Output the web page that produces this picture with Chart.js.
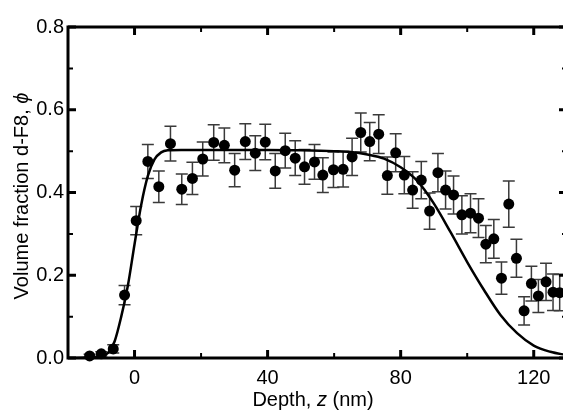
<!DOCTYPE html>
<html><head><meta charset="utf-8">
<script src="https://cdn.jsdelivr.net/npm/chart.js@4/dist/chart.umd.min.js"></script>
<style>html,body{margin:0;padding:0;overflow:hidden;background:#fff;width:563px;height:410px}</style>
</head><body>
<div style="width:575px;height:410px;position:relative"><canvas id="c" width="575" height="410"></canvas></div>
<script>
// measured points
const depth = [-13.5,-10.0,-6.4,-3.0,0.5,4.0,7.3,10.8,14.2,17.4,20.5,23.8,27.0,30.1,33.3,36.3,39.3,42.3,45.3,48.3,51.1,54.1,56.6,59.8,62.7,65.4,68.0,70.7,73.4,76.0,78.5,81.1,83.6,86.2,88.7,91.2,93.5,95.9,98.4,101.0,103.4,105.6,108.0,110.3,112.5,114.8,117.1,119.3,121.4,123.7,125.8,127.8];
const phi = [0.005,0.010,0.022,0.152,0.332,0.475,0.414,0.518,0.408,0.434,0.481,0.521,0.514,0.454,0.523,0.495,0.522,0.452,0.501,0.483,0.462,0.474,0.442,0.455,0.456,0.486,0.545,0.523,0.541,0.441,0.496,0.442,0.406,0.430,0.355,0.448,0.406,0.394,0.346,0.350,0.338,0.275,0.288,0.193,0.372,0.241,0.114,0.180,0.150,0.184,0.159,0.158];
const phiErr = [0.004,0.005,0.010,0.023,0.034,0.041,0.038,0.042,0.037,0.039,0.041,0.043,0.042,0.040,0.043,0.042,0.043,0.042,0.042,0.042,0.042,0.042,0.042,0.043,0.043,0.045,0.047,0.046,0.047,0.045,0.046,0.045,0.044,0.045,0.044,0.046,0.046,0.046,0.046,0.047,0.047,0.045,0.047,0.039,0.056,0.046,0.034,0.042,0.040,0.045,0.044,0.044];
// fitted profile
const fitDepth = [-20,-14,-10,-8,-6,-4,-2,0,2,4,6,8,10,14,20,30,40,50,60,65,70,75,80,85,90,95,100,105,110,115,120,125,130];
const fitPhi = [0.000,0.001,0.004,0.012,0.040,0.100,0.175,0.275,0.370,0.440,0.480,0.497,0.502,0.503,0.503,0.503,0.503,0.502,0.500,0.498,0.492,0.482,0.461,0.428,0.373,0.304,0.232,0.165,0.104,0.060,0.030,0.015,0.007];
// axes
const xMajorTicks = [0,40,80,120];
const xMinorTicks = [-20,20,60,100];
const xTickLabels = ['0','40','80','120'];
const yMajorTicks = [0,0.2,0.4,0.6,0.8];
const yMinorTicks = [0.1,0.3,0.5,0.7];
const yTickLabels = ['0.0','0.2','0.4','0.6','0.8'];

const FONT = '"Liberation Sans", Arial, Helvetica, sans-serif';

const decor = {
  id: 'decor',
  beforeDatasetsDraw(chart) {
    const ctx = chart.ctx, xs = chart.scales.x, ys = chart.scales.y, a = chart.chartArea;
    ctx.save();
    // error bars
    ctx.strokeStyle = '#3a3a3a'; ctx.lineWidth = 1.5;
    depth.forEach((d, i) => {
      const px = xs.getPixelForValue(d);
      const t = ys.getPixelForValue(phi[i] + phiErr[i]);
      const b = ys.getPixelForValue(Math.max(0, phi[i] - phiErr[i]));
      ctx.beginPath();
      ctx.moveTo(px, t); ctx.lineTo(px, b);
      ctx.moveTo(px - 6, t); ctx.lineTo(px + 6, t);
      ctx.moveTo(px - 6, b); ctx.lineTo(px + 6, b);
      ctx.stroke();
    });
    // frame
    ctx.strokeStyle = '#000'; ctx.lineWidth = 3;
    ctx.strokeRect(a.left, a.top, a.right - a.left, a.bottom - a.top);
    // ticks
    const tick = (vals, len, w) => {
      ctx.lineWidth = w; ctx.beginPath();
      vals.forEach(v => {
        const px = xs.getPixelForValue(v);
        ctx.moveTo(px, a.bottom); ctx.lineTo(px, a.bottom - len);
        ctx.moveTo(px, a.top); ctx.lineTo(px, a.top + len);
      });
      ctx.stroke();
    };
    const ytick = (vals, len, w) => {
      ctx.lineWidth = w; ctx.beginPath();
      vals.forEach(v => {
        const py = ys.getPixelForValue(v);
        ctx.moveTo(a.left, py); ctx.lineTo(a.left + len, py);
        ctx.moveTo(a.right, py); ctx.lineTo(a.right - len, py);
      });
      ctx.stroke();
    };
    tick(xMajorTicks, 8, 3); tick(xMinorTicks, 5, 2);
    ytick(yMajorTicks, 8, 3); ytick(yMinorTicks, 5, 2);
    ctx.restore();
  },
  afterDraw(chart) {
    const ctx = chart.ctx;
    ctx.save();
    ctx.fillStyle = '#000';
    const size = 20;
    const normal = size + 'px ' + FONT, ital = 'italic ' + size + 'px ' + FONT;
    const drawParts = (parts, cx, cy) => {
      let total = 0;
      parts.forEach(p => { ctx.font = p[1]; total += ctx.measureText(p[0]).width; });
      let x = cx - total / 2;
      ctx.textAlign = 'left'; ctx.textBaseline = 'alphabetic';
      parts.forEach(p => { ctx.font = p[1]; ctx.fillText(p[0], x, cy); x += ctx.measureText(p[0]).width; });
    };
    // x title
    drawParts([['Depth, ', normal], ['z', ital], [' (nm)', normal]], 313, 406);
    // y title
    ctx.translate(28, 196);
    ctx.rotate(-Math.PI / 2);
    drawParts([['Volume fraction d-F8, ', normal], ['\u03d5', ital]], 0, 0);
    ctx.restore();
  }
};

new Chart(document.getElementById('c'), {
  data: {
    datasets: [
      {
        type: 'scatter', label: 'data', order: 1, clip: false,
        data: depth.map((d, i) => ({ x: d, y: phi[i] })),
        pointRadius: 5.5, pointHoverRadius: 5.5, backgroundColor: '#000', borderWidth: 0
      },
      {
        type: 'line', label: 'fit', order: 2,
        data: fitDepth.map((d, i) => ({ x: d, y: fitPhi[i] })),
        borderColor: '#000', borderWidth: 2.5, pointRadius: 0, fill: false,
        cubicInterpolationMode: 'monotone'
      }
    ]
  },
  options: {
    responsive: false, animation: false,
    layout: { padding: { left: 0, top: 27, right: 8, bottom: 0 } },
    plugins: { legend: { display: false }, tooltip: { enabled: false } },
    scales: {
      x: {
        type: 'linear', min: -20, max: 130,
        grid: { display: false, drawTicks: false }, border: { display: false },
        afterBuildTicks: s => { s.ticks = xMajorTicks.map(v => ({ value: v })); },
        afterFit: s => { s.height = 52; },
        ticks: { color: '#000', padding: 8, maxRotation: 0, font: { family: FONT, size: 20 },
          callback: (v, i) => xTickLabels[i] }
      },
      y: {
        type: 'linear', min: 0, max: 0.8,
        grid: { display: false, drawTicks: false }, border: { display: false },
        afterBuildTicks: s => { s.ticks = yMajorTicks.map(v => ({ value: v })); },
        afterFit: s => { s.width = 68; },
        ticks: { color: '#000', padding: 4, font: { family: FONT, size: 20 },
          callback: (v, i) => yTickLabels[i] }
      }
    }
  },
  plugins: [decor]
});
</script>
</body></html>
